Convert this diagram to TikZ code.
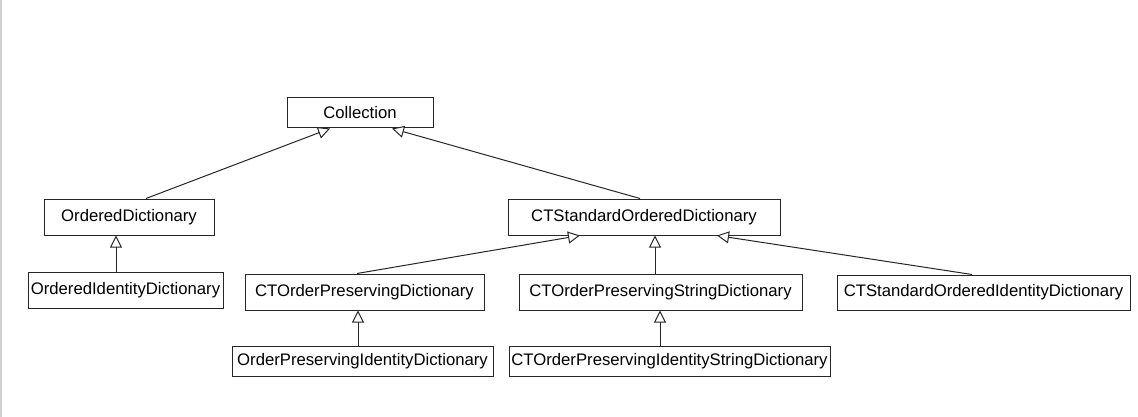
\documentclass[tikz,border=0pt]{standalone}
\usepackage{fontspec}
\setmainfont{Liberation Sans}
\usetikzlibrary{arrows.meta}
\begin{document}
\begin{tikzpicture}[x=1pt,y=-1pt,
  cls/.style={draw=black!85,line width=1pt,inner sep=0pt,font=\fontsize{16.7}{18}\selectfont,fill=white},
  inh/.style={draw=black!85,line width=1pt,-{Triangle[open,length=12pt,width=12pt,fill=white]}}]
\useasboundingbox (0,0) rectangle (1138,417);
\draw[gray!35,line width=2pt] (1,0) -- (1,417);
\node[cls,minimum width=146pt,minimum height=30pt] (coll) at (360,113) {Collection};
\node[cls,minimum width=170pt,minimum height=36pt] (od) at (129,217) {OrderedDictionary};
\node[cls,minimum width=272pt,minimum height=36pt] (csod) at (644,217) {CTStandardOrderedDictionary};
\node[cls,minimum width=195pt,minimum height=36pt] (oid) at (125.5,290) {OrderedIdentityDictionary};
\node[cls,minimum width=239pt,minimum height=36pt] (copd) at (364.5,292) {CTOrderPreservingDictionary};
\node[cls,minimum width=283pt,minimum height=36pt] (copsd) at (660.5,292) {CTOrderPreservingStringDictionary};
\node[cls,minimum width=293pt,minimum height=35pt] (csoid) at (983.5,292.5) {CTStandardOrderedIdentityDictionary};
\node[cls,minimum width=261pt,minimum height=30pt] (opid) at (362.5,361) {OrderPreservingIdentityDictionary};
\node[cls,minimum width=321pt,minimum height=30pt] (copisd) at (669.5,361) {CTOrderPreservingIdentityStringDictionary};
\draw[inh] ([xshift=17pt]od.north) -- ([xshift=-30pt]coll.south);
\draw[inh] ([xshift=-4pt]csod.north) -- ([xshift=32pt]coll.south);
\draw[inh] ([xshift=-9.5pt]oid.north) -- ([xshift=-13pt]od.south);
\draw[inh] ([xshift=-7.5pt]copd.north) -- ([xshift=-64pt]csod.south);
\draw[inh] ([xshift=-5.5pt]copsd.north) -- ([xshift=11pt]csod.south);
\draw[inh] ([xshift=-11.5pt]csoid.north) -- ([xshift=73pt]csod.south);
\draw[inh] ([xshift=-4.5pt]opid.north) -- ([xshift=-6.5pt]copd.south);
\draw[inh] ([xshift=-9.5pt]copisd.north) -- ([xshift=-0.5pt]copsd.south);
\end{tikzpicture}
\end{document}
